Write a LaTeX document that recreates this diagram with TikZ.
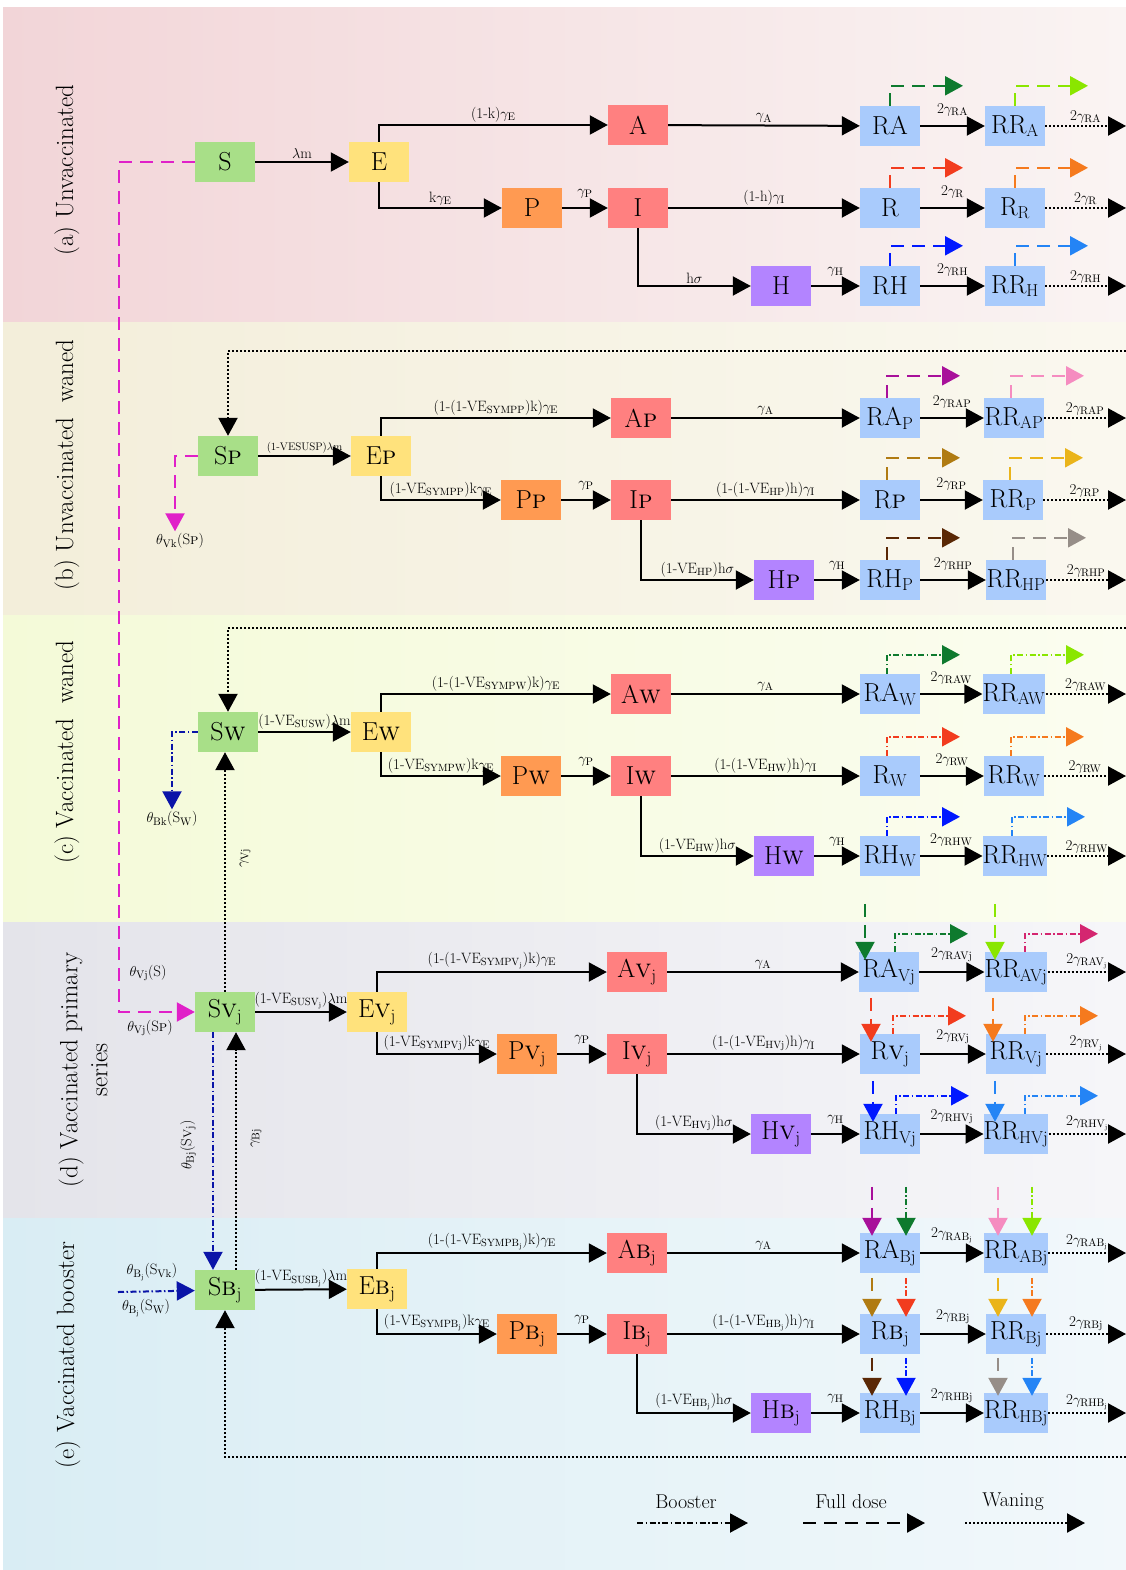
\documentclass[tikz,border=0pt]{standalone}
\usepackage{xcolor}
\usepackage{amsmath}
\usepackage{tikz}
\usetikzlibrary{calc, arrows.meta}
\definecolor{susGreen}{HTML}{A8DF88}
\definecolor{expYellow}{HTML}{FFE27C}
\definecolor{preOrange}{HTML}{FF9A52}
\definecolor{infRed}{HTML}{FF8080}
\definecolor{hosPurple}{HTML}{B384FF}
\definecolor{recBlue}{HTML}{A9CBFC}
\definecolor{magDose}{HTML}{E020C8}
\definecolor{boostBlue}{HTML}{0A14A8}
\definecolor{cRA}{HTML}{0E7A2E}
\definecolor{cRRA}{HTML}{8AE600}
\definecolor{cR}{HTML}{F23C1E}
\definecolor{cRR}{HTML}{F57A1E}
\definecolor{cRH}{HTML}{0018FF}
\definecolor{cRRH}{HTML}{2484F5}
\definecolor{cRAP}{HTML}{A8109A}
\definecolor{cRRAP}{HTML}{F58CC0}
\definecolor{cRP}{HTML}{B07B12}
\definecolor{cRRP}{HTML}{EAB41A}
\definecolor{cRHP}{HTML}{5A2806}
\definecolor{cRRHP}{HTML}{968E88}
\definecolor{cRRAV}{HTML}{D42670}
\definecolor{bandAl}{HTML}{F2D5D8}
\definecolor{bandAr}{HTML}{FAF4F3}
\definecolor{bandBl}{HTML}{F3EEDA}
\definecolor{bandBr}{HTML}{FAF8EF}
\definecolor{bandCl}{HTML}{F4FAD8}
\definecolor{bandCr}{HTML}{FBFDF0}
\definecolor{bandDl}{HTML}{E4E4EA}
\definecolor{bandDr}{HTML}{F6F6F9}
\definecolor{bandEl}{HTML}{D9EDF4}
\definecolor{bandEr}{HTML}{F2F8FB}
\newcommand{\gsub}[1]{$\gamma_{\mathrm{#1}}$}
\newcommand{\VE}[1]{VE\textsubscript{#1}}
\tikzset{
  comp/.style  = {minimum width=60pt, minimum height=40pt, inner sep=0pt,
                  font=\fontsize{26}{28}\selectfont},
  sus/.style   = {comp, fill=susGreen},
  expo/.style  = {comp, fill=expYellow},
  pre/.style   = {comp, fill=preOrange},
  inf/.style   = {comp, fill=infRed},
  hosp/.style  = {comp, fill=hosPurple},
  rec/.style   = {comp, fill=recBlue},
  fl/.style    = {-{Triangle[length=18pt,width=19pt]}, draw=black, line width=2pt},
  full/.style  = {-{Triangle[length=18pt,width=19pt]}, draw=black, line width=2.2pt,
                  dash pattern=on 13pt off 8pt},
  boost/.style = {-{Triangle[length=18pt,width=19pt]}, draw=black, line width=2pt,
                  dash pattern=on 6pt off 2.5pt on 1.5pt off 2.5pt},
  wane/.style  = {-{Triangle[length=18pt,width=19pt]}, draw=black, line width=2.2pt,
                  dash pattern=on 2pt off 2pt},
  rate/.style  = {font=\fontsize{15}{17}\selectfont, inner sep=2pt},
  hirate/.style = {rate, above=7pt},
  tinyrate/.style = {font=\fontsize{11}{12}\selectfont, inner sep=1.5pt},
  sect/.style  = {rotate=90, align=center, font=\fontsize{25}{30}\selectfont},
  lgd/.style   = {font=\fontsize{20}{22}\selectfont}
}

\begin{document}
\begin{tikzpicture}[x=1pt, y=-1pt]
  \useasboundingbox (0,0) rectangle (1126,1570);
  % bands
  \shade[left color=bandAl, right color=bandAr] (3,8) rectangle (1126,322);
  \shade[left color=bandBl, right color=bandBr] (3,322) rectangle (1126,615);
  \shade[left color=bandCl, right color=bandCr] (3,615) rectangle (1126,922);
  \shade[left color=bandDl, right color=bandDr] (3,922) rectangle (1126,1218);
  \shade[left color=bandEl, right color=bandEr] (3,1218) rectangle (1126,1570);
  \coordinate (rim) at (1126,0);

  \node[sect] (labA) at (67,170) {(a) Unvaccinated};
  \node[sect] (labB) at (67,465) {(b) Unvaccinated \ waned};
  \node[sect] (labC) at (67,752) {(c) Vaccinated \ waned};
  \node[sect] (labD) at (83,1070) {(d) Vaccinated primary\\series};
  \node[sect] (labE) at (68,1355) {(e) Vaccinated booster};

  % (a) unvaccinated
  \node[sus]  (Sa)   at (225,162) {S};
  \node[expo] (Ea)   at (379,162) {E};
  \node[inf]  (Aa)   at (638,125) {A};
  \node[pre]  (Pa)   at (532,208) {P};
  \node[inf]  (Ia)   at (638,208) {I};
  \node[hosp] (Ha)   at (781,286) {H};
  \node[rec]  (RAa)  at (890,126) {RA};
  \node[rec]  (RRAa) at (1015,126) {RR$_{\mathrm{A}}$};
  \node[rec]  (Ra)   at (890,208) {R};
  \node[rec]  (RRa)  at (1015,208) {R$_{\mathrm{R}}$};
  \node[rec]  (RHa)  at (890,286) {RH};
  \node[rec]  (RRHa) at (1015,286) {RR$_{\mathrm{H}}$};
  \draw[fl] (Sa) -- node[rate, above] {$\lambda$m} (Ea);
  \draw[fl] (Ea.north) |- node[rate, above, pos=0.75] {(1-k)\gsub{E}} (Aa);
  \draw[fl] (Ea.south) |- node[rate, above, pos=0.75] {k\gsub{E}} (Pa);
  \draw[fl] (Pa) -- node[hirate] {\gsub{P}} (Ia);
  \draw[fl] (Aa) -- node[rate, above] {\gsub{A}} (RAa);
  \draw[fl] (Ia) -- node[rate, above] {(1-h)\gsub{I}} (Ra);
  \draw[fl] (Ia.south) |- node[rate, above, pos=0.75] {h$\sigma$} (Ha);
  \draw[fl] (Ha) -- node[hirate] {\gsub{H}} (RHa);
  \foreach \x/\y/\lab in {RAa/RRAa/RA, Ra/RRa/R, RHa/RRHa/RH} {
    \draw[fl] (\x) -- node[hirate] {2\gsub{\lab}} (\y);
    \draw[wane] (\y) -- node[rate, above] {2\gsub{\lab}} (\y -| rim);
  }
  \foreach \x/\c in {RAa/cRA, RRAa/cRRA, Ra/cR, RRa/cRR, RHa/cRH, RRHa/cRRH}
    \draw[full, draw=\c] (\x.north) |- ++(73,-20);

  % (b) unvaccinated waned
  \node[sus]  (Sp)   at (228,456) {S\textsc{p}};
  \node[expo] (Ep)   at (381,456) {E\textsc{p}};
  \node[inf]  (Ap)   at (641,418) {A\textsc{p}};
  \node[pre]  (Pp)   at (531,500) {P\textsc{p}};
  \node[inf]  (Ip)   at (641,500) {I\textsc{p}};
  \node[hosp] (Hp)   at (784,580) {H\textsc{p}};
  \node[rec]  (RAp)  at (890,418) {RA$_{\mathrm{P}}$};
  \node[rec]  (RRAp) at (1014,418) {RR$_{\mathrm{AP}}$};
  \node[rec]  (Rp)   at (890,500) {R\textsc{p}};
  \node[rec]  (RRp)  at (1013,500) {RR$_{\mathrm{P}}$};
  \node[rec]  (RHp)  at (890,580) {RH$_{\mathrm{P}}$};
  \node[rec]  (RRHp) at (1016,580) {RR$_{\mathrm{HP}}$};
  \coordinate (wp) at (1126,351);
  \draw[wane] (wp) -| (Sp);
  \node[rate] (thVk) at (180,541) {$\theta_{\mathrm{Vk}}$(S\textsc{p})};
  \draw[full, draw=magDose] (Sp.west) -| ([xshift=-5pt]thVk.north);
  \draw[fl] (Sp) -- node[tinyrate, above] {(1-VESUSP)$\lambda$m} (Ep);
  \draw[fl] (Ep.north) |- node[rate, above, pos=0.75] {(1-(1-\VE{SYMPP})k)\gsub{E}} (Ap);
  \draw[fl] (Ep.south) |- node[rate, above, pos=0.75] {(1-\VE{SYMPP})k\gsub{E}} (Pp);
  \draw[fl] (Pp) -- node[hirate] {\gsub{P}} (Ip);
  \draw[fl] (Ap) -- node[rate, above] {\gsub{A}} (RAp);
  \draw[fl] (Ip) -- node[rate, above] {(1-(1-\VE{HP})h)\gsub{I}} (Rp);
  \draw[fl] (Ip.south) |- node[rate, above, pos=0.75] {(1-\VE{HP})h$\sigma$} (Hp);
  \draw[fl] (Hp) -- node[hirate] {\gsub{H}} (RHp);
  \foreach \x/\y/\lab in {RAp/RRAp/RAP, Rp/RRp/RP, RHp/RRHp/RHP} {
    \draw[fl] (\x) -- node[hirate] {2\gsub{\lab}} (\y);
    \draw[wane] (\y) -- node[rate, above] {2\gsub{\lab}} (\y -| rim);
  }
  \foreach \x/\c in {RAp/cRAP, RRAp/cRRAP, Rp/cRP, RRp/cRRP, RHp/cRHP, RRHp/cRRHP}
    \draw[full, draw=\c] ([xshift=-3pt]\x.north) |- ++(73,-22);

  % (c) vaccinated waned
  \node[sus]  (Sw)   at (228,732) {S\textsc{w}};
  \node[expo] (Ew)   at (381,732) {E\textsc{w}};
  \node[inf]  (Aw)   at (641,694) {A\textsc{w}};
  \node[pre]  (Pw)   at (531,776) {P\textsc{w}};
  \node[inf]  (Iw)   at (641,776) {I\textsc{w}};
  \node[hosp] (Hw)   at (784,856) {H\textsc{w}};
  \node[rec]  (RAw)  at (890,694) {RA$_{\mathrm{W}}$};
  \node[rec]  (RRAw) at (1014,694) {RR$_{\mathrm{AW}}$};
  \node[rec]  (Rw)   at (890,776) {R$_{\mathrm{W}}$};
  \node[rec]  (RRw)  at (1014,776) {RR$_{\mathrm{W}}$};
  \node[rec]  (RHw)  at (890,856) {RH$_{\mathrm{W}}$};
  \node[rec]  (RRHw) at (1015,856) {RR$_{\mathrm{HW}}$};
  \coordinate (ww) at (1126,628);
  \draw[wane] (ww) -| (Sw);
  \node[rate] (thBk) at (172,819) {$\theta_{\mathrm{Bk}}$(S$_{\mathrm{W}}$)};
  \draw[boost, draw=boostBlue] (Sw.west) -| (thBk.north);
  \draw[fl] (Sw) -- node[rate, above] {(1-\VE{SUSW})$\lambda$m} (Ew);
  \draw[fl] (Ew.north) |- node[rate, above, pos=0.75] {(1-(1-\VE{SYMPW})k)\gsub{E}} (Aw);
  \draw[fl] (Ew.south) |- node[rate, above, pos=0.75] {(1-\VE{SYMPW})k\gsub{E}} (Pw);
  \draw[fl] (Pw) -- node[hirate] {\gsub{P}} (Iw);
  \draw[fl] (Aw) -- node[rate, above] {\gsub{A}} (RAw);
  \draw[fl] (Iw) -- node[rate, above] {(1-(1-\VE{HW})h)\gsub{I}} (Rw);
  \draw[fl] (Iw.south) |- node[rate, above, pos=0.75] {(1-\VE{HW})h$\sigma$} (Hw);
  \draw[fl] (Hw) -- node[hirate] {\gsub{H}} (RHw);
  \foreach \x/\y/\lab in {RAw/RRAw/RAW, Rw/RRw/RW, RHw/RRHw/RHW} {
    \draw[fl] (\x) -- node[hirate] {2\gsub{\lab}} (\y);
    \draw[wane] (\y) -- node[rate, above] {2\gsub{\lab}} (\y -| rim);
  }
  \foreach \x/\c in {RAw/cRA, RRAw/cRRA, Rw/cR, RRw/cRR, RHw/cRH, RRHw/cRRH}
    \draw[boost, draw=\c] ([xshift=-3pt]\x.north) |- ++(73,-19);

  % (d) vaccinated primary series
  \node[sus]  (Sv)   at (225,1012) {S\textsc{v}$_{\mathrm{j}}$};
  \node[expo] (Ev)   at (377,1012) {E\textsc{v}$_{\mathrm{j}}$};
  \node[inf]  (Av)   at (637,972) {A\textsc{v}$_{\mathrm{j}}$};
  \node[pre]  (Pv)   at (527,1054) {P\textsc{v}$_{\mathrm{j}}$};
  \node[inf]  (Iv)   at (637,1054) {I\textsc{v}$_{\mathrm{j}}$};
  \node[hosp] (Hv)   at (781,1134) {H\textsc{v}$_{\mathrm{j}}$};
  \node[rec]  (RAv)  at (889,972) {RA$_{\mathrm{Vj}}$};
  \node[rec]  (RRAv) at (1016,972) {RR$_{\mathrm{AVj}}$};
  \node[rec]  (Rv)   at (890,1054) {R\textsc{v}$_{\mathrm{j}}$};
  \node[rec]  (RRv)  at (1016,1054) {RR$_{\mathrm{Vj}}$};
  \node[rec]  (RHv)  at (890,1134) {RH$_{\mathrm{Vj}}$};
  \node[rec]  (RRHv) at (1016,1134) {RR$_{\mathrm{HVj}}$};
  \draw[full, draw=magDose] (Sa.west) -- ++(-76,0) |- (Sv);
  \node[rate] (thVjS) at (148,973) {$\theta_{\mathrm{Vj}}$(S)};
  \node[rate] (thVjSp) at (150,1028) {$\theta_{\mathrm{Vj}}$(S\textsc{p})};
  \draw[wane] (Sv.north) -- (Sv.north |- Sw.south);
  \node[rate, rotate=90] (gVj) at (245,858) {$\gamma_{\mathrm{Vj}}$};
  \draw[fl] (Sv) -- node[rate, above] {(1-\VE{SUSV\textsubscript{j}})$\lambda$m} (Ev);
  \draw[fl] (Ev.north) |- node[rate, above, pos=0.75] {(1-(1-\VE{SYMPV\textsubscript{j}})k)\gsub{E}} (Av);
  \draw[fl] (Ev.south) |- node[rate, above, pos=0.75] {(1-\VE{SYMPVj})k\gsub{E}} (Pv);
  \draw[fl] (Pv) -- node[hirate] {\gsub{P}} (Iv);
  \draw[fl] (Av) -- node[rate, above] {\gsub{A}} (RAv);
  \draw[fl] (Iv) -- node[rate, above] {(1-(1-\VE{HVj})h)\gsub{I}} (Rv);
  \draw[fl] (Iv.south) |- node[rate, above, pos=0.75] {(1-\VE{HVj})h$\sigma$} (Hv);
  \draw[fl] (Hv) -- node[hirate] {\gsub{H}} (RHv);
  \foreach \x/\y/\lab/\labo in {RAv/RRAv/RAVj/RAV_j, Rv/RRv/RVj/RV_j, RHv/RRHv/RHVj/RHV_j} {
    \draw[fl] (\x) -- node[hirate] {2\gsub{\lab}} (\y);
    \draw[wane] (\y) -- node[rate, above] {2\gsub{\labo}} (\y -| rim);
  }
  \foreach \x/\c/\d in {RAv/cRA/6, RRAv/cRRAV/9, Rv/cR/3, RRv/cRR/9, RHv/cRH/6, RRHv/cRRH/9}
    \draw[boost, draw=\c] ([xshift=\d pt]\x.north) |- ++(73,-18);
  \foreach \x/\c/\d/\h in {RAv/cRA/-24/48, RRAv/cRRA/-21/48, Rv/cR/-19/36,
                           RRv/cRR/-23/36, RHv/cRH/-17/33, RRHv/cRRH/-21/33}
    \draw[full, draw=\c] ([shift={(\d,-\h)}]\x.north) -- ([shift={(\d,8)}]\x.north);

  % (e) vaccinated booster
  \node[sus]  (SB)   at (225,1290) {S\textsc{b}$_{\mathrm{j}}$};
  \node[expo] (EB)   at (377,1289) {E\textsc{b}$_{\mathrm{j}}$};
  \node[inf]  (AB)   at (637,1253) {A\textsc{b}$_{\mathrm{j}}$};
  \node[pre]  (PB)   at (527,1334) {P\textsc{b}$_{\mathrm{j}}$};
  \node[inf]  (IB)   at (637,1334) {I\textsc{b}$_{\mathrm{j}}$};
  \node[hosp] (HB)   at (781,1413) {H\textsc{b}$_{\mathrm{j}}$};
  \node[rec]  (RAB)  at (890,1253) {RA$_{\mathrm{Bj}}$};
  \node[rec]  (RRAB) at (1016,1253) {RR$_{\mathrm{ABj}}$};
  \node[rec]  (RB)   at (890,1334) {R\textsc{b}$_{\mathrm{j}}$};
  \node[rec]  (RRB)  at (1016,1334) {RR$_{\mathrm{Bj}}$};
  \node[rec]  (RHB)  at (890,1413) {RH$_{\mathrm{Bj}}$};
  \node[rec]  (RRHB) at (1016,1413) {RR$_{\mathrm{HBj}}$};
  \draw[boost, draw=boostBlue] ([xshift=-12pt]Sv.south) -- ([xshift=-12pt]SB.north);
  \draw[wane] ([xshift=11pt]SB.north) -- ([xshift=11pt]Sv.south);
  \node[rate, rotate=90] (thBj) at (188,1145) {$\theta_{\mathrm{Bj}}$(S\textsc{v}$_{\mathrm{j}}$)};
  \node[rate, rotate=90] (gBj) at (256,1138) {$\gamma_{\mathrm{Bj}}$};
  \coordinate (bIn) at (118,1292);
  \draw[boost, draw=boostBlue] (bIn) -- (SB);
  \node[rate] (thBjV) at (152,1272) {$\theta_{\mathrm{B_j}}$(S$_{\mathrm{Vk}}$)};
  \node[rate] (thBjW) at (146,1308) {$\theta_{\mathrm{B_j}}$(S$_{\mathrm{W}}$)};
  \coordinate (wb) at (1126,1457);
  \draw[wane] (wb) -| (SB);
  \draw[fl] (SB) -- node[rate, above] {(1-\VE{SUSB\textsubscript{j}})$\lambda$m} (EB);
  \draw[fl] (EB.north) |- node[rate, above, pos=0.75] {(1-(1-\VE{SYMPB\textsubscript{j}})k)\gsub{E}} (AB);
  \draw[fl] (EB.south) |- node[rate, above, pos=0.75] {(1-\VE{SYMPB\textsubscript{j}})k\gsub{E}} (PB);
  \draw[fl] (PB) -- node[hirate] {\gsub{P}} (IB);
  \draw[fl] (AB) -- node[rate, above] {\gsub{A}} (RAB);
  \draw[fl] (IB) -- node[rate, above] {(1-(1-\VE{HB\textsubscript{j}})h)\gsub{I}} (RB);
  \draw[fl] (IB.south) |- node[rate, above, pos=0.75] {(1-\VE{HB\textsubscript{j}})h$\sigma$} (HB);
  \draw[fl] (HB) -- node[hirate] {\gsub{H}} (RHB);
  \foreach \x/\y/\lab/\labo in {RAB/RRAB/RAB_j/RAB_j, RB/RRB/RBj/RBj, RHB/RRHB/RHBj/RHB_j} {
    \draw[fl] (\x) -- node[hirate] {2\gsub{\lab}} (\y);
    \draw[wane] (\y) -- node[rate, above] {2\gsub{\labo}} (\y -| rim);
  }
  \foreach \x/\c/\e/\h in {RAB/cRAP/cRA/46, RRAB/cRRAP/cRRA/46, RB/cRP/cR/36,
                           RRB/cRRP/cRR/36, RHB/cRHP/cRH/35, RRHB/cRRHP/cRRH/35} {
    \draw[full, draw=\c] ([shift={(-18,-\h)}]\x.north) -- ([shift={(-18,3)}]\x.north);
    \draw[boost, draw=\e] ([shift={(16,-\h)}]\x.north) -- ([shift={(16,3)}]\x.north);
  }

  % legend
  \node[lgd] (lgBoost) at (686,1502) {Booster};
  \node[lgd] (lgFull) at (851,1502) {Full dose};
  \node[lgd] (lgWane) at (1013,1502) {Waning};
  \coordinate (b0) at (637,1523); \coordinate (b1) at (748,1523);
  \coordinate (f0) at (803,1523); \coordinate (f1) at (925,1523);
  \coordinate (w0) at (965,1523); \coordinate (w1) at (1085,1523);
  \draw[boost] (b0) -- (b1);
  \draw[full] (f0) -- (f1);
  \draw[wane] (w0) -- (w1);
\end{tikzpicture}
\end{document}
